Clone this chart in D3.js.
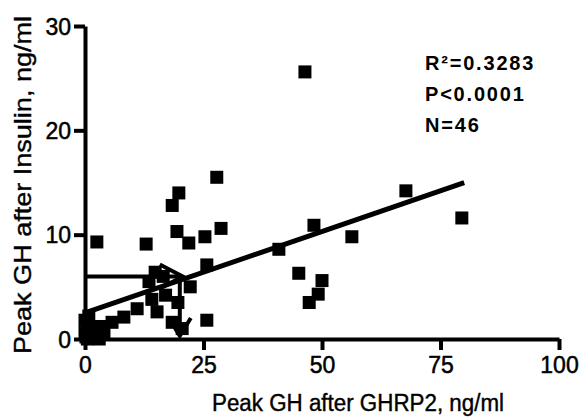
<!DOCTYPE html>
<html><head><meta charset="utf-8">
<script src="https://cdn.jsdelivr.net/npm/d3@7"></script>
<style>body{margin:0;background:#fff}svg{display:block}</style>
</head><body>
<script>
// Data: Peak GH after GHRP2 (x) vs after Insulin (y)
const ghrp2 = [46.4,67.7,79.5,48.3,56.3,40.9,45.1,50.0,49.2,47.3,
  27.8,19.8,18.4,28.7,19.4,25.3,21.9,12.9,2.5,25.7,
  14.8,22.2,14.1,19.6,15.2,18.4,25.7,11.0,8.2,5.7,
  3.2,0.6,0.0,0.5,1.7,13.5,17.0,20.5,0.2,1.2,
  2.5,4.0,0.0,0.8,3.0,16.5];
const insulin = [25.6,14.2,11.6,10.9,9.8,8.6,6.3,5.6,4.3,3.5,
  15.5,14.0,12.8,10.6,10.3,9.8,9.2,9.1,9.3,7.1,
  6.4,5.0,3.8,3.5,2.6,1.6,1.8,2.9,2.1,1.6,
  1.2,1.4,0.6,0.0,0.5,5.5,4.2,1.0,0.2,0.1,
  0.3,0.7,1.8,2.2,0.0,6.0];
const xTicks = [0,25,50,75,100];
const yTicks = [0,10,20,30];
const fit = {intercept:2.5, slope:0.156, xMin:0, xMax:80};
const arrowX = 20, arrowY = 6;
const stats = ["R\u00b2=0.3283","P<0.0001","N=46"];

const W=581,H=417;
const svg=d3.select("body").append("svg").attr("width",W).attr("height",H);
const x=d3.scaleLinear().domain([0,100]).range([85,559]);
const y=d3.scaleLinear().domain([0,30]).range([339,26]);
const font="'Liberation Sans', Arial, Helvetica, sans-serif";

// axes
const xAxis=d3.axisBottom(x).tickValues(xTicks).tickSize(11).tickPadding(6).tickSizeOuter(0);
const gx=svg.append("g").attr("transform",`translate(0,${y(0)})`).call(xAxis);
const yAxis=d3.axisLeft(y).tickValues(yTicks).tickSize(11).tickPadding(3).tickSizeOuter(0);
const gy=svg.append("g").attr("transform",`translate(${x(0)},0)`).call(yAxis);
[gx,gy].forEach(g=>{
  g.select(".domain").attr("stroke","#000").attr("stroke-width",4);
  g.selectAll(".tick line").attr("stroke","#000").attr("stroke-width",4);
  g.selectAll(".tick text").attr("fill","#000").attr("stroke","#000").attr("stroke-width",0.5)
    .style("font-family",font).style("font-size","23px");
});
gx.selectAll(".tick text").attr("dy","0.72em");
gy.selectAll(".tick text").attr("dy","0.36em");

// regression line
svg.append("line")
  .attr("x1",x(fit.xMin)).attr("y1",y(fit.intercept+fit.slope*fit.xMin))
  .attr("x2",x(fit.xMax)).attr("y2",y(fit.intercept+fit.slope*fit.xMax))
  .attr("stroke","#000").attr("stroke-width",5);

// arrows
const arr=svg.append("g").attr("stroke","#000").attr("stroke-width",4).attr("fill","none").attr("stroke-linecap","butt");
const hx=x(arrowX), hy=y(arrowY);
arr.append("line").attr("x1",x(0)).attr("y1",hy).attr("x2",hx+3).attr("y2",hy);
arr.append("path").attr("d",`M${hx-20},${hy-12}L${hx+3},${hy}L${hx-20},${hy+12}`);
const vy=y(0)-3;
arr.append("line").attr("x1",hx).attr("y1",hy).attr("x2",hx).attr("y2",vy);
arr.append("path").attr("d",`M${hx-11},${vy-18}L${hx},${vy}L${hx+11},${vy-18}`);

// points
const s=13;
svg.append("g").selectAll("rect").data(ghrp2.map((v,i)=>[v,insulin[i]])).join("rect")
  .attr("x",d=>x(d[0])-s/2).attr("y",d=>y(d[1])-s/2)
  .attr("width",s).attr("height",s).attr("fill","#000");

// stats text
svg.append("g").selectAll("text").data(stats).join("text")
  .attr("x",425).attr("y",(d,i)=>70+i*31)
  .style("font-family",font).style("font-size","20px").style("font-weight","bold")
  .style("letter-spacing","1.8px").text(d=>d);

// axis titles
svg.append("text").attr("x",358).attr("y",411).attr("text-anchor","middle")
  .attr("stroke","#000").attr("stroke-width",0.4)
  .style("font-family",font).style("font-size","23px")
  .attr("textLength",292).attr("lengthAdjust","spacingAndGlyphs")
  .text("Peak GH after GHRP2, ng/ml");
svg.append("text").attr("transform","translate(31,185) rotate(-90)").attr("text-anchor","middle")
  .attr("stroke","#000").attr("stroke-width",0.4)
  .style("font-family",font).style("font-size","24px")
  .attr("textLength",338).attr("lengthAdjust","spacingAndGlyphs")
  .text("Peak GH after Insulin, ng/ml");
</script>
</body></html>
